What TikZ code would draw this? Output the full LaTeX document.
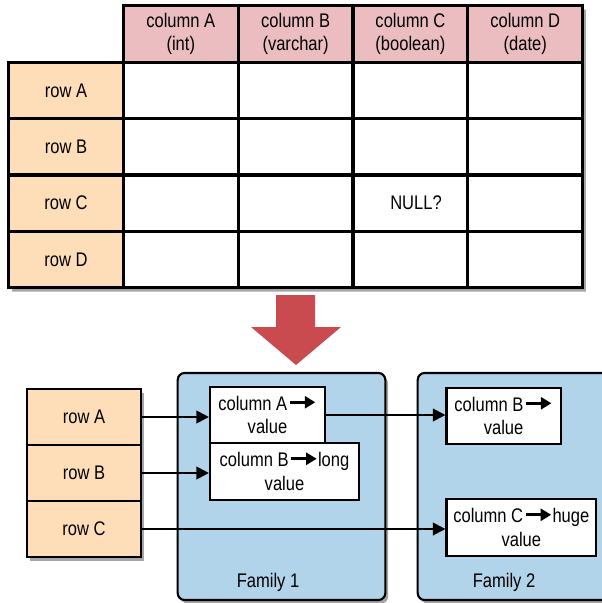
\documentclass[tikz,border=0pt]{standalone}
\usepackage{fontspec}
\setmainfont{Liberation Sans}[FakeStretch=0.84]
\usetikzlibrary{arrows.meta,shadows,positioning}
\tikzset{>={Triangle[length=9pt,width=9pt]}}
\definecolor{hdr}{HTML}{EBBDC1}
\definecolor{rowc}{HTML}{FDDEB9}
\definecolor{fam}{HTML}{B2D4EA}
\definecolor{bigred}{HTML}{C94B50}
\tikzstyle{txt}=[font=\fontsize{14}{16.5}\selectfont,align=center]
\tikzstyle{cell}=[draw,line width=2.2pt,minimum width=2.87cm,minimum height=1.41cm,inner sep=0pt,txt]
\tikzstyle{shad}=[drop shadow={shadow xshift=2pt,shadow yshift=-2.5pt,opacity=.35,fill=black}]
\tikzstyle{rowbox}=[draw,line width=1.5pt,fill=rowc,minimum width=2.85cm,minimum height=1.4cm,inner sep=0pt,txt]
\tikzstyle{valbox}=[draw,line width=1.5pt,fill=white,minimum height=1.4cm,inner sep=0pt,txt]
\tikzstyle{family}=[draw,line width=1.5pt,fill=fam,rounded corners=5pt,minimum width=5.19cm,minimum height=5.675cm,shad]
\newcommand{\colarrow}{\kern1pt\tikz[baseline=-5.8pt]\draw[line width=1.9pt,-{Triangle[length=7.5pt,width=8.5pt]}] (0pt,0pt) -- (18pt,0pt);}

\begin{document}
\begin{tikzpicture}[x=0.025cm,y=-0.025cm]
  \useasboundingbox (0,0) rectangle (601,603);
  % table
  \path[fill=white,shad] (9,62) -| (123,6) -| (583,288) -| cycle;
  \foreach \c/\t [count=\i] in {A/int,B/varchar,C/boolean,D/date}
    \node[cell,fill=hdr] (h\c) at (66+114.8*\i,34) {column \c\\(\t)};
  \foreach \r [count=\j] in {A,B,C,D}{
    \node[cell,fill=rowc] (r\r) at (66,34+56.4*\j) {row \r};
    \foreach \c [count=\i] in {A,B,C,D}
      \node[cell,fill=white] (c\r\c) at (66+114.8*\i,34+56.4*\j) {};
  }
  \node[txt] (null) at ([xshift=4pt]cCC) {NULL?};
  \fill[bigred] (276,295) -- (315,295) -- (315,327) -- (341,327) -- (296,365)
                -- (251,327) -- (276,327) -- cycle;
  % column families
  \node[family] (fam1) at (281.5,486.5) {};
  \node[family] (fam2) at (521.5,486.5) {};
  \node[txt] (fam1lbl) at (268,582) {Family 1};
  \node[txt] (fam2lbl) at (504,582) {Family 2};
  \node[rowbox,shad] (brA) at (84,417) {row A};
  \node[rowbox,shad] (brB) at (84,473) {row B};
  \node[rowbox,shad] (brC) at (84,529) {row C};
  \node[valbox,minimum width=2.875cm] (vA) at (267.5,415) {column A\colarrow\\value};
  \node[valbox,minimum width=3.725cm,minimum height=1.425cm] (vB) at (284.5,471.5) {column B\colarrow long\\value};
  \node[valbox,minimum width=2.855cm] (wB) at (503.6,416) {column B\colarrow\\value};
  \node[valbox,minimum width=3.74cm,minimum height=1.425cm] (wC) at (521.3,527.5) {column C\colarrow huge\\value};
  \draw[->,line width=1.5pt] (brA.east) -- (brA.east -| vA.west);
  \draw[->,line width=1.5pt] (brB.east) -- (brB.east -| vB.west);
  \draw[->,line width=1.5pt] (vA.east) -- (vA.east -| wB.west);
  \draw[->,line width=1.5pt] (brC.east) -- (brC.east -| wC.west);
\end{tikzpicture}
\end{document}
